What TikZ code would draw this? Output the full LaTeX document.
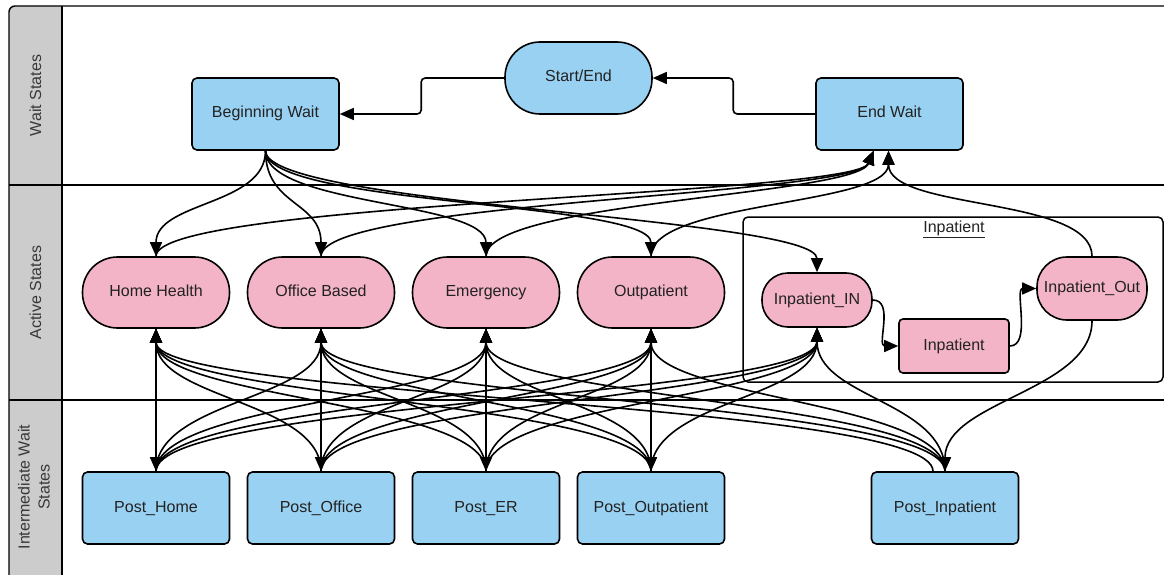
\documentclass[tikz,border=0pt]{standalone}
\usepackage{fontspec}
\setmainfont{Liberation Sans}
\usetikzlibrary{arrows.meta}
\definecolor{nblue}{RGB}{153,209,242}
\definecolor{npink}{RGB}{243,180,200}
\definecolor{lanegray}{RGB}{204,204,204}
\definecolor{txt}{RGB}{34,34,34}
\begin{document}
\begin{tikzpicture}[x=1pt,y=-1pt,
  every node/.style={font=\fontsize{16}{20}\selectfont, text=txt},
  boxtext/.style={text height=11.5pt, text depth=3.5pt},
  bluebox/.style={boxtext, draw=black, line width=1.6pt, fill=nblue, rounded corners=5pt,
    minimum width=147pt, minimum height=72pt, inner sep=0pt},
  bigpill/.style={boxtext, draw=black, line width=1.6pt, fill=npink, rounded corners=35pt,
    minimum width=147pt, minimum height=71pt, inner sep=0pt},
  smallpill/.style={boxtext, draw=black, line width=1.6pt, fill=npink, rounded corners=26pt,
    minimum width=110pt, minimum height=54pt, inner sep=0pt},
  pinkbox/.style={boxtext, draw=black, line width=1.6pt, fill=npink, rounded corners=4pt,
    minimum width=110pt, minimum height=54pt, inner sep=0pt},
  container/.style={draw=black, line width=1.5pt, rounded corners=5pt, inner sep=0pt},
  lanelabel/.style={rotate=90, align=center, text=txt!90},
  laneline/.style={draw=black, line width=1.4pt},
  conn/.style={draw=black, line width=1.6pt, -{Triangle[length=14pt,width=12pt]}},
]
\useasboundingbox (0,0) rectangle (1164,575);
\clip (0,0) rectangle (1164,575);
% lanes
\fill[white] (0,0) rectangle (1164,575);
\fill[lanegray] (62,590) -- (62,6) [rounded corners=6pt] -- (9,6) [sharp corners] -- (9,590) -- cycle;
\draw[laneline, rounded corners=6pt] (9,590) -- (9,6) -- (1180,6);
\draw[laneline] (62,6) -- (62,590);
\draw[laneline] (9,185) -- (1180,185);
\draw[laneline] (9,400) -- (1180,400);
\node[lanelabel] (lw) at (35.5,95.5) {Wait States};
\node[lanelabel] (la) at (35.5,292.5) {Active States};
\node[lanelabel] (li) at (34,487) {Intermediate Wait\\States};
% inpatient container
\node[container, minimum width=420pt, minimum height=165pt] (box) at (953,299.5) {};
\node (boxlbl) at (954,229) {\underline{Inpatient}};
% nodes
\node[bluebox] (BW) at (265.5,114) {Beginning Wait};
\node[bigpill, fill=nblue, minimum height=72pt] (SE) at (578.5,78) {Start/End};
\node[bluebox] (EW) at (889.5,114) {End Wait};
\node[bigpill] (HH) at (156,292.5) {Home Health};
\node[bigpill] (OB) at (321,292.5) {Office Based};
\node[bigpill] (EM) at (486,292.5) {Emergency};
\node[bigpill] (OP) at (651,292.5) {Outpatient};
\node[smallpill] (PIN) at (817,300) {Inpatient\_IN};
\node[pinkbox] (INP) at (954,346) {Inpatient};
\node[smallpill, minimum height=63pt, rounded corners=30pt] (POUT) at (1092,288.5) {Inpatient\_Out};
\node[bluebox] (PH) at (156,508) {Post\_Home};
\node[bluebox] (PO) at (321,508) {Post\_Office};
\node[bluebox] (PER) at (486,508) {Post\_ER};
\node[bluebox] (POP) at (651,508) {Post\_Outpatient};
\node[bluebox] (PINP) at (945,508) {Post\_Inpatient};
% top connectors
\draw[conn, rounded corners=4pt] (EW.west) -- ++(-82,0) |- (SE.east);
\draw[conn, rounded corners=4pt] (SE.west) -- ++(-83,0) |- (BW.east);
\foreach \t in {HH,OB,EM,OP,PIN}{
  \draw[conn] (BW.south) .. controls +(0,55) and +(0,-55) .. (\t.north);
}
\foreach \s in {HH,OB,EM}{
  \draw[conn] (\s.north) .. controls +(0,-55) and +(-18,45) .. ([xshift=-16pt]EW.south);
}
\draw[conn] (OP.north) .. controls +(0,-55) and +(0,55) .. ([xshift=-1pt]EW.south);
\draw[conn] (POUT.north) .. controls +(0,-60) and +(0,60) .. ([xshift=-1pt]EW.south);
% inpatient internal
\draw[conn] (PIN.east) .. controls +(22,0) and +(-22,0) .. (INP.west);
\draw[conn] (INP.east) .. controls +(22,0) and +(-22,0) .. (POUT.west);
% active -> post
\draw[conn] (HH.south) -- (PH.north);
\draw[conn] (OB.south) -- (PO.north);
\draw[conn] (EM.south) -- (PER.north);
\draw[conn] (OP.south) -- (POP.north);
\draw[conn] (POUT.south) .. controls +(0,70) and +(0,-70) .. (PINP.north);
% post -> active
\foreach \s in {PH,PO,PER,POP}{
  \foreach \t in {HH,OB,EM,OP,PIN}{
    \draw[conn] (\s.north) .. controls +(0,-70) and +(0,70) .. (\t.south);
  }
}
\draw[conn] ([xshift=-12pt]PINP.north) .. controls +(0,-70) and +(0,70) .. (HH.south);
\foreach \t in {OB,EM,OP,PIN}{
  \draw[conn] (PINP.north) .. controls +(0,-70) and +(0,70) .. (\t.south);
}
\end{tikzpicture}
\end{document}
